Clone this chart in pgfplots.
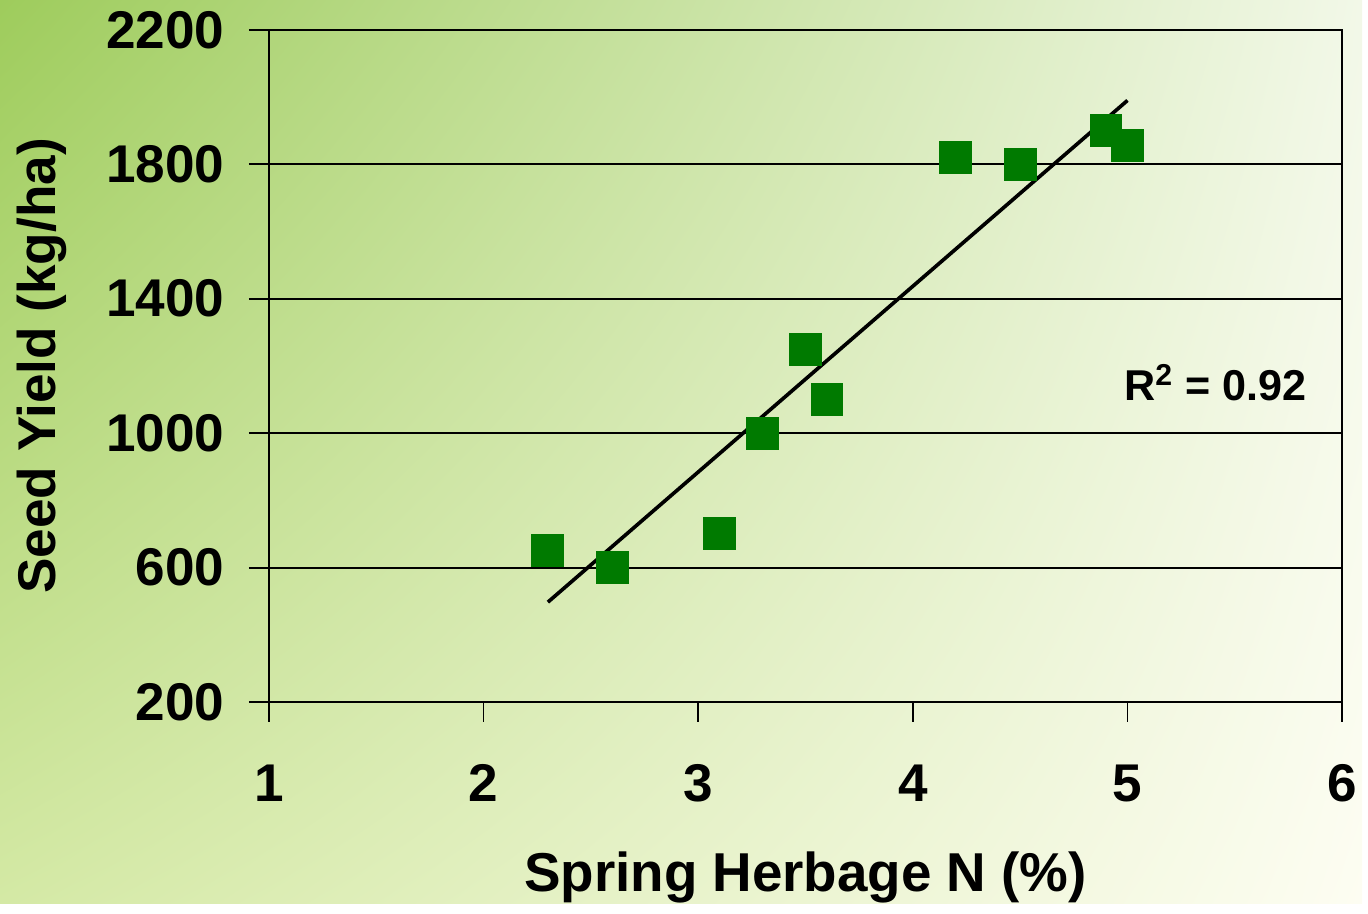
\documentclass[border=0pt]{standalone}
\usepackage{pgfplots}
\pgfplotsset{compat=1.18}
\usetikzlibrary{shadings}
\usepackage{fontspec}
\setmainfont{Liberation Sans}
\definecolor{mkgreen}{RGB}{0,122,0}
\definecolor{bgUL}{RGB}{158,204,92}
\definecolor{bgUR}{RGB}{242,248,232}
\definecolor{bgLL}{RGB}{212,233,165}
\definecolor{bgLR}{RGB}{253,253,242}
\newcommand{\lblfont}{\fontsize{16}{19}\selectfont\bfseries}
\begin{document}
\begin{tikzpicture}
\shade[upper left=bgUL, upper right=bgUR, lower left=bgLL, lower right=bgLR]
  (-81pt,-60.6pt) rectangle (329.4pt,211.5pt);
\begin{axis}[
  at={(0,0)}, anchor=south west,
  width=323.4pt, height=202.5pt, scale only axis,
  xmin=1, xmax=6, ymin=200, ymax=2200,
  xtick={1,2,3,4,5,6}, ytick={200,600,1000,1400,1800,2200},
  tick pos=left, tick align=outside, major tick length=6pt,
  tick style={black, line width=0.6pt},
  axis line style={black, line width=0.6pt},
  ymajorgrids, major grid style={black, line width=0.6pt},
  /pgf/number format/assume math mode=true,
  /pgf/number format/1000 sep={},
  tick label style={font=\lblfont},
  xticklabel style={anchor=base, yshift=-24pt},
  yticklabel style={xshift=-3.9pt},
  xlabel={Spring Herbage N (\%)},
  ylabel={Seed Yield (kg/ha)},
  label style={font=\lblfont},
  xlabel style={at={(axis description cs:0.5,-0.2815)}, anchor=base, font=\fontsize{16.5}{19}\selectfont\bfseries},
  ylabel style={at={(axis description cs:-0.2115,0.5)}, anchor=center, rotate=0},
]
\addplot[black, line width=1.1pt] coordinates {(2.3,497) (5.0,1990)};
\addplot[only marks, mark=square*, mark size=4.8pt,
  mark options={draw=mkgreen, fill=mkgreen, line width=0pt}] coordinates {
  (2.3,650) (2.6,600) (3.1,700) (3.3,1000) (3.5,1250) (3.6,1100)
  (4.2,1820) (4.5,1800) (4.9,1900) (5.0,1855)
};
\node[anchor=base, font=\fontsize{13}{15}\selectfont\bfseries] at (axis cs:5.41,1098) {R\textsuperscript{2} = 0.92};
\end{axis}
\end{tikzpicture}
\end{document}
